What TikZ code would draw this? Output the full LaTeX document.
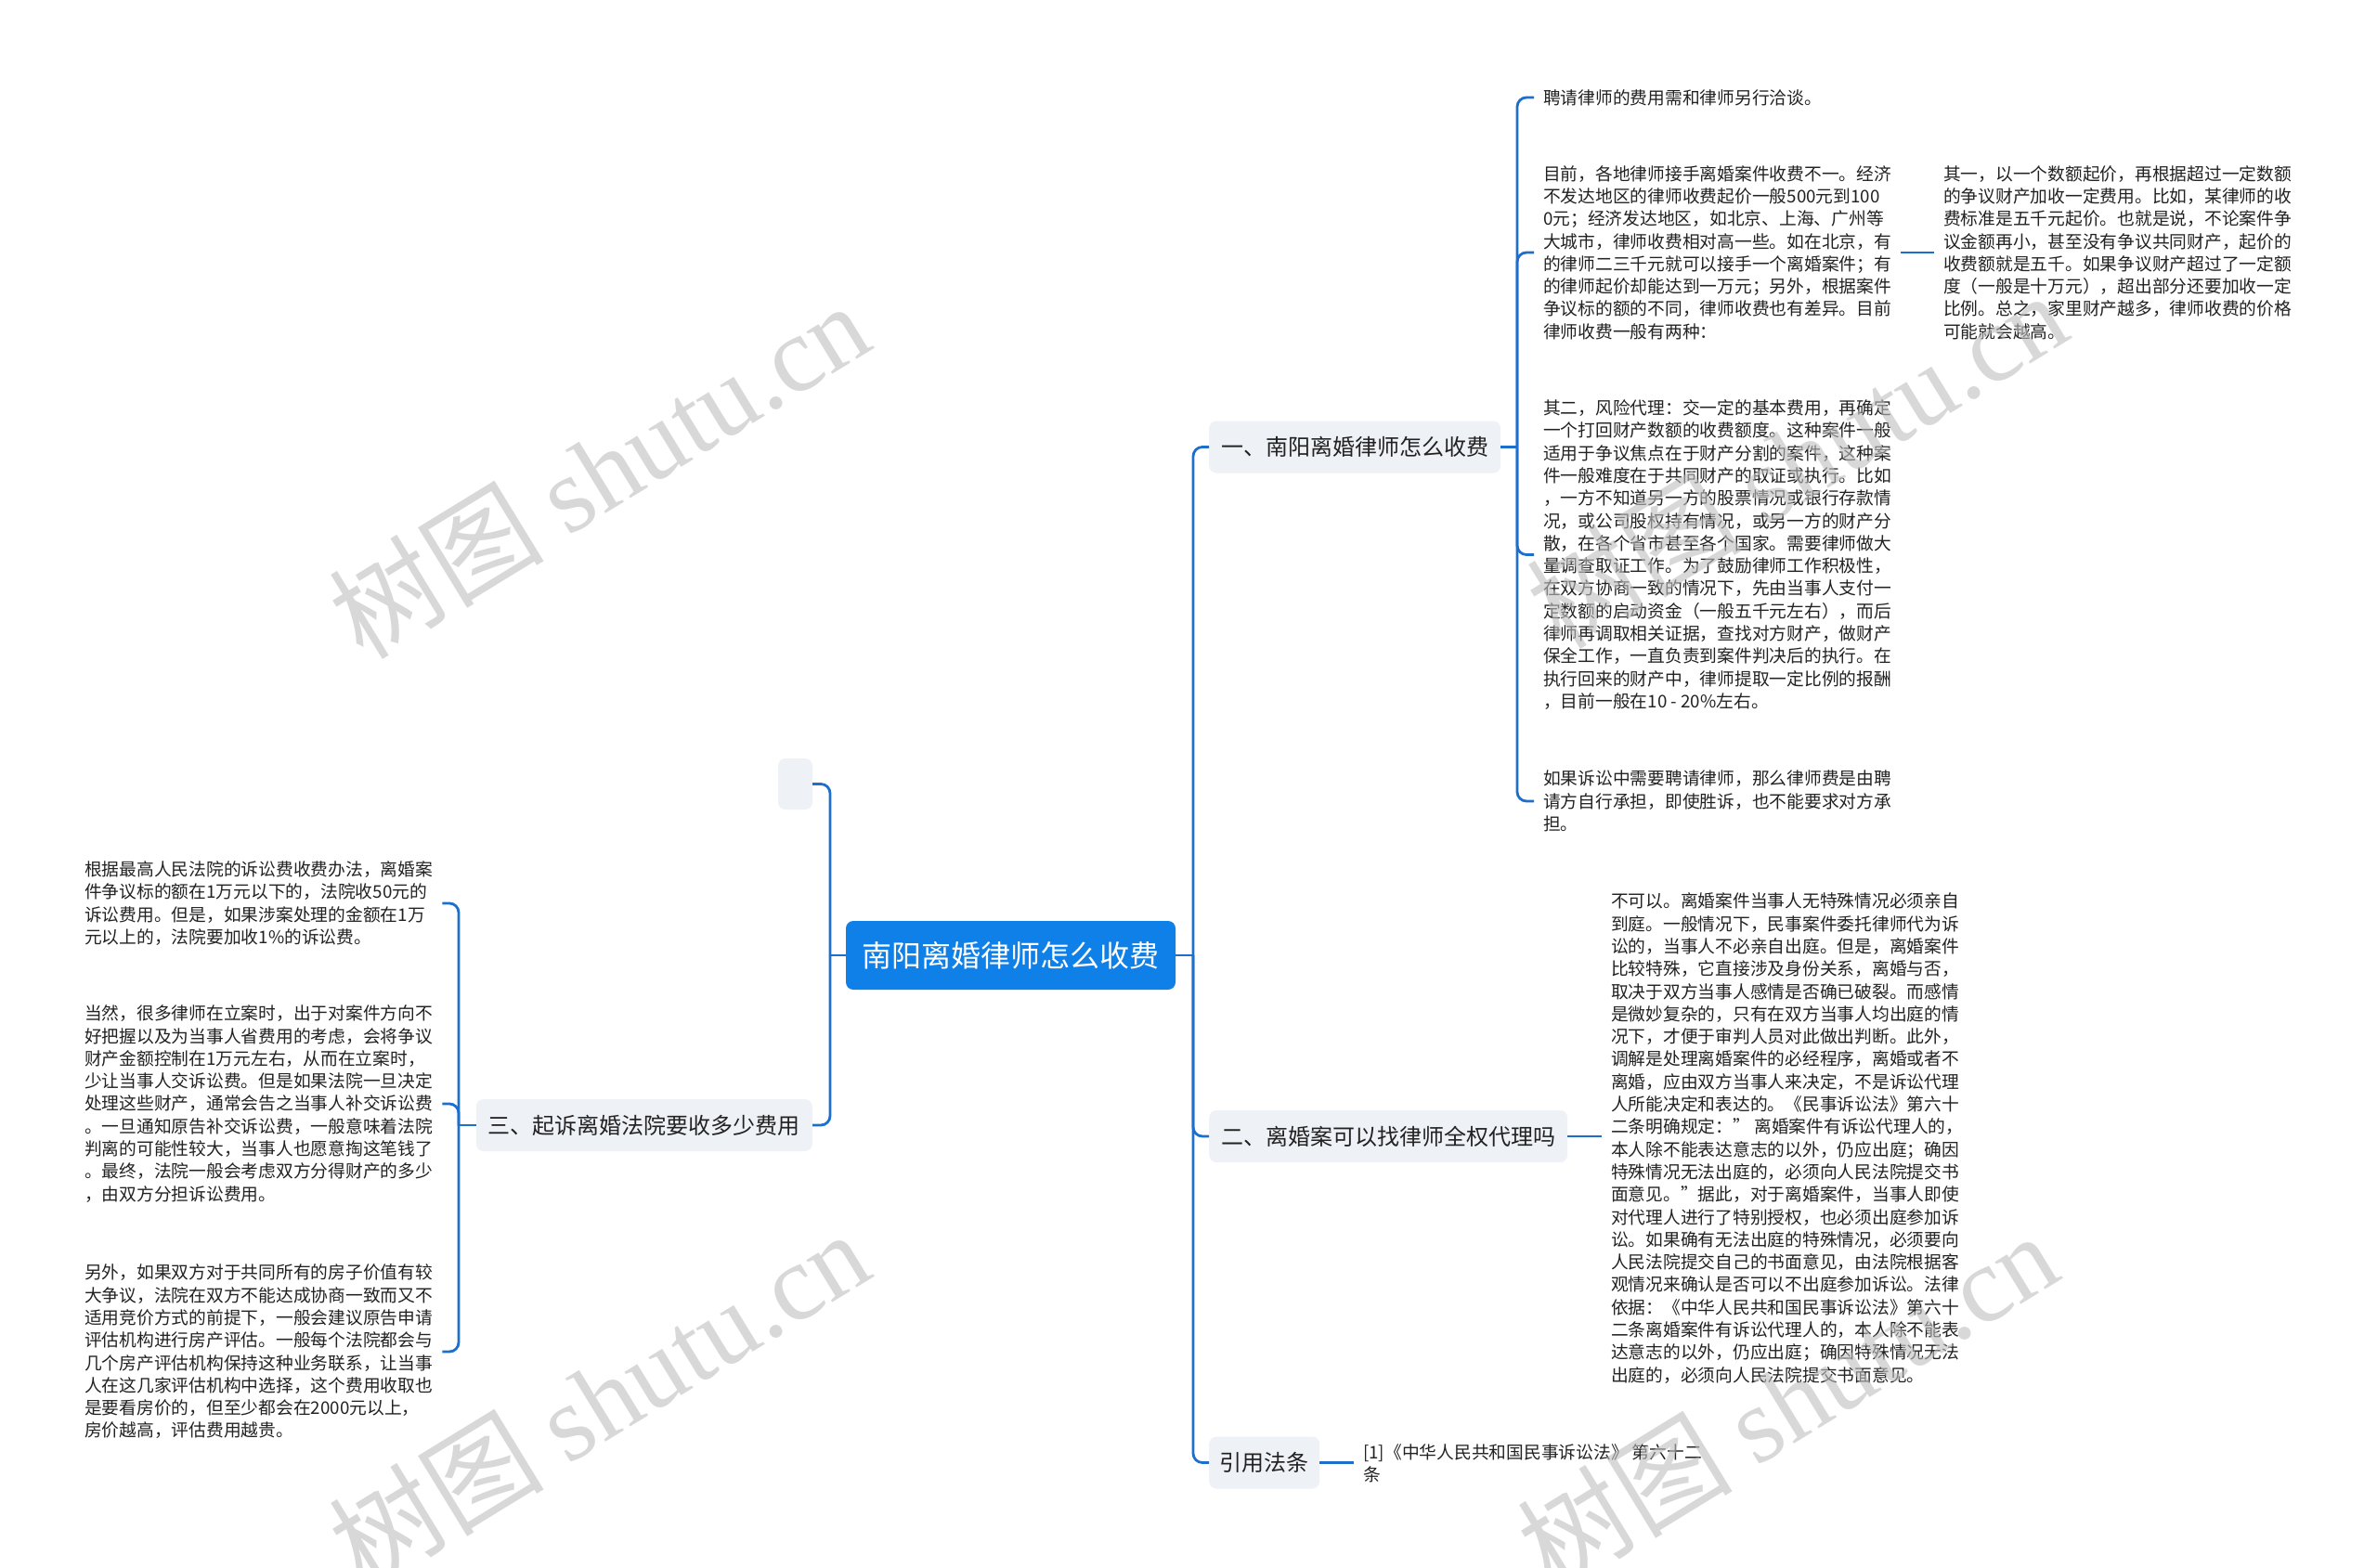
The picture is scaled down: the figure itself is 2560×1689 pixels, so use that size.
\documentclass[tikz,border=0pt]{standalone}
\usepackage{fontspec}
\setmainfont{Noto Sans CJK SC}
\newfontfamily\wmserif{Liberation Serif}
\newfontfamily\wmcjk{Noto Sans CJK SC}
\definecolor{linec}{HTML}{1E6FCC}
\definecolor{rootc}{HTML}{0F80E8}
\definecolor{boxc}{HTML}{EEF1F5}
\definecolor{txtc}{HTML}{222222}
\definecolor{wmc}{HTML}{BEBEBE}
\begin{document}
\begin{tikzpicture}[x=1pt,y=-1pt,
  conn/.style={draw=linec, line width=2.8pt, rounded corners=10pt},
  rootbox/.style={fill=rootc, rounded corners=8pt, text=white, font=\fontsize{32}{38}\selectfont, minimum width=355pt, minimum height=74pt, inner sep=0pt},
  branch/.style={fill=boxc, rounded corners=8pt, text=txtc, font=\fontsize{24}{29}\selectfont, minimum height=56pt, inner xsep=13pt, inner ysep=0pt},
  emptybox/.style={fill=boxc, rounded corners=8pt, minimum width=37pt, minimum height=55pt, inner sep=0pt},
  leaf/.style={text=txtc, font=\fontsize{18.75}{24.3}\selectfont, align=left, inner xsep=10pt, inner ysep=3pt},
  wm/.style={text=wmc, opacity=0.6, rotate=31.5, inner sep=0pt}
]
\useasboundingbox[fill=white] (0,0) rectangle (2560,1689);

% root and branches
\node[rootbox] (root) at (1088.5,1029) {南阳离婚律师怎么收费};
\node[branch, anchor=west] (b1) at (1302,481.5) {一、南阳离婚律师怎么收费};
\node[branch, anchor=west] (b2) at (1302,1224) {二、离婚案可以找律师全权代理吗};
\node[branch, anchor=west, inner xsep=11.5pt] (b4) at (1302,1575.5) {引用法条};
\node[branch, anchor=east] (b3) at (875,1212) {三、起诉离婚法院要收多少费用};
\node[emptybox] (b0) at (856.5,844.5) {};

% leaves of branch 1
\node[leaf, anchor=west] (t11) at (1652,105) {聘请律师的费用需和律师另行洽谈。};
\node[leaf, anchor=west] (t12) at (1652,272) {目前，各地律师接手离婚案件收费不一。经济\\不发达地区的律师收费起价一般500元到100\\0元；经济发达地区，如北京、上海、广州等\\大城市，律师收费相对高一些。如在北京，有\\的律师二三千元就可以接手一个离婚案件；有\\的律师起价却能达到一万元；另外，根据案件\\争议标的额的不同，律师收费也有差异。目前\\律师收费一般有两种：};
\node[leaf, anchor=west] (t121) at (2083,272) {其一，以一个数额起价，再根据超过一定数额\\的争议财产加收一定费用。比如，某律师的收\\费标准是五千元起价。也就是说，不论案件争\\议金额再小，甚至没有争议共同财产，起价的\\收费额就是五千。如果争议财产超过了一定额\\度（一般是十万元），超出部分还要加收一定\\比例。总之，家里财产越多，律师收费的价格\\可能就会越高。};
\node[leaf, anchor=west] (t13) at (1652,597.5) {其二，风险代理：交一定的基本费用，再确定\\一个打回财产数额的收费额度。这种案件一般\\适用于争议焦点在于财产分割的案件，这种案\\件一般难度在于共同财产的取证或执行。比如\\，一方不知道另一方的股票情况或银行存款情\\况，或公司股权持有情况，或另一方的财产分\\散，在各个省市甚至各个国家。需要律师做大\\量调查取证工作。为了鼓励律师工作积极性，\\在双方协商一致的情况下，先由当事人支付一\\定数额的启动资金（一般五千元左右），而后\\律师再调取相关证据，查找对方财产，做财产\\保全工作，一直负责到案件判决后的执行。在\\执行回来的财产中，律师提取一定比例的报酬\\，目前一般在10 - 20\%左右。};
\node[leaf, anchor=west] (t14) at (1652,863) {如果诉讼中需要聘请律师，那么律师费是由聘\\请方自行承担，即使胜诉，也不能要求对方承\\担。};

% leaf of branch 2
\node[leaf, anchor=west] (t21) at (1725,1226) {不可以。离婚案件当事人无特殊情况必须亲自\\到庭。一般情况下，民事案件委托律师代为诉\\讼的，当事人不必亲自出庭。但是，离婚案件\\比较特殊，它直接涉及身份关系，离婚与否，\\取决于双方当事人感情是否确已破裂。而感情\\是微妙复杂的，只有在双方当事人均出庭的情\\况下，才便于审判人员对此做出判断。此外，\\调解是处理离婚案件的必经程序，离婚或者不\\离婚，应由双方当事人来决定，不是诉讼代理\\人所能决定和表达的。《民事诉讼法》第六十\\二条明确规定：” 离婚案件有诉讼代理人的，\\本人除不能表达意志的以外，仍应出庭；确因\\特殊情况无法出庭的，必须向人民法院提交书\\面意见。”据此，对于离婚案件，当事人即使\\对代理人进行了特别授权，也必须出庭参加诉\\讼。如果确有无法出庭的特殊情况，必须要向\\人民法院提交自己的书面意见，由法院根据客\\观情况来确认是否可以不出庭参加诉讼。法律\\依据：《中华人民共和国民事诉讼法》第六十\\二条离婚案件有诉讼代理人的，本人除不能表\\达意志的以外，仍应出庭；确因特殊情况无法\\出庭的，必须向人民法院提交书面意见。};

% leaf of branch 4
\node[leaf, anchor=west] (t41) at (1458,1576) {[1]《中华人民共和国民事诉讼法》 第六十二\\条};

% leaves of branch 3
\node[leaf, anchor=west] (t31) at (81,973) {根据最高人民法院的诉讼费收费办法，离婚案\\件争议标的额在1万元以下的，法院收50元的\\诉讼费用。但是，如果涉案处理的金额在1万\\元以上的，法院要加收1\%的诉讼费。};
\node[leaf, anchor=west] (t32) at (81,1189) {当然，很多律师在立案时，出于对案件方向不\\好把握以及为当事人省费用的考虑，会将争议\\财产金额控制在1万元左右，从而在立案时，\\少让当事人交诉讼费。但是如果法院一旦决定\\处理这些财产，通常会告之当事人补交诉讼费\\。一旦通知原告补交诉讼费，一般意味着法院\\判离的可能性较大，当事人也愿意掏这笔钱了\\。最终，法院一般会考虑双方分得财产的多少\\，由双方分担诉讼费用。};
\node[leaf, anchor=west] (t33) at (81,1456) {另外，如果双方对于共同所有的房子价值有较\\大争议，法院在双方不能达成协商一致而又不\\适用竞价方式的前提下，一般会建议原告申请\\评估机构进行房产评估。一般每个法院都会与\\几个房产评估机构保持这种业务联系，让当事\\人在这几家评估机构中选择，这个费用收取也\\是要看房价的，但至少都会在2000元以上，\\房价越高，评估费用越贵。};

% junctions
\coordinate (rj) at (1285,1029);
\coordinate (lj) at (894,1029);
\coordinate (j1) at (1634,481.5);
\coordinate (j3) at (494,1212);

% connectors: root
\draw[conn] (root.east) -- (rj);
\draw[conn] (rj) |- (b1.west);
\draw[conn] (rj) |- (b2.west);
\draw[conn] (rj) |- (b4.west);
\draw[conn] (root.west) -- (lj);
\draw[conn] (lj) |- (b0.east);
\draw[conn] (lj) |- (b3.east);

% branch 1
\draw[conn] (b1.east) -- (j1);
\draw[conn] (j1) |- (t11.west);
\draw[conn] (j1) |- (t12.west);
\draw[conn] (j1) |- (t13.west);
\draw[conn] (j1) |- (t14.west);
\draw[conn] (t12.east) -- (t12.east -| t121.west);

% branch 2 and 4
\draw[conn] (b2.east) -- (b2.east -| t21.west);
\draw[conn] (b4.east) -- (b4.east -| t41.west);

% branch 3
\draw[conn] (b3.west) -- (j3);
\draw[conn] (j3) |- (t31.east);
\draw[conn] (j3) |- (t32.east);
\draw[conn] (j3) |- (t33.east);

% watermarks
\foreach \wx/\wy [count=\i] in {645/506, 645/1506, 1935/495, 1925/1508}{
  \node[wm] (wm\i) at (\wx,\wy) {\fontsize{116}{126}\selectfont\wmcjk 树图 \wmserif shutu.cn};
}
\end{tikzpicture}
\end{document}
